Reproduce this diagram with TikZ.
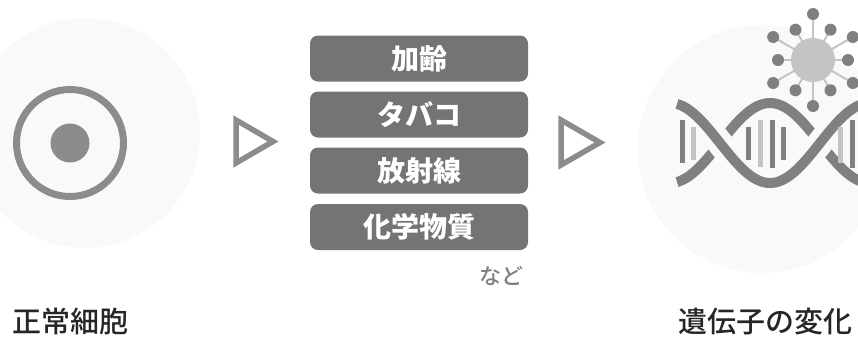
\documentclass[tikz,border=0pt]{standalone}
\usepackage{fontspec}
\newfontfamily\jpfont{Noto Sans CJK JP}
\newfontfamily\jpmedium{Noto Sans CJK JP Medium}
\definecolor{ringgray}{HTML}{8C8C8C}
\definecolor{boxgray}{HTML}{747474}
\definecolor{helixgray}{HTML}{808080}
\definecolor{palegray}{HTML}{C4C4C4}
\definecolor{halo}{HTML}{F9F9F9}
\definecolor{labelink}{HTML}{262626}
\begin{document}
\begin{tikzpicture}[x=1pt,y=-1pt,
  factor/.style={rounded corners=8pt, fill=boxgray, minimum width=218pt,
    minimum height=46pt, inner sep=0pt, text=white,
    font=\jpfont\bfseries\fontsize{28}{30}\selectfont},
  stagelabel/.style={inner sep=0pt, text=labelink,
    font=\jpmedium\fontsize{29}{32}\selectfont},
  flowmark/.style={draw=ringgray, line width=5.5pt, line join=miter},
  strand/.style={draw=helixgray, line width=10pt, line cap=butt},
  gap/.style={draw=halo, line width=26pt, line cap=butt},
  bar/.style={line width=5pt, line cap=butt},
  spike/.style={draw=palegray, line width=2pt},
  knob/.style={fill=helixgray}]
\useasboundingbox (0,0) rectangle (858,338);
\clip (0,0) rectangle (858,338);

% faint halos behind the two pictograms
\fill[halo] (85,133) circle (115);
\fill[halo] (762,149) circle (124);

% normal cell
\node[circle, draw=ringgray, line width=7pt, minimum size=107pt, inner sep=0pt] (cell) at (70,143) {};
\node[circle, fill=ringgray, minimum size=39pt, inner sep=0pt] (nucleus) at (cell.center) {};

% first flow mark
\coordinate (m1) at (236,120);
\draw[flowmark] (m1) -- ++(0,43) -- ++(37,-21.5) -- cycle;

% causes
\node[factor] (f1) at (419,58.5) {加齢};
\node[factor] (f2) at (419,114.5) {タバコ};
\node[factor] (f3) at (419,170.5) {放射線};
\node[factor] (f4) at (419,227) {化学物質};
\node[inner sep=0pt, text=helixgray, font=\jpmedium\fontsize{22}{24}\selectfont] (etc) at (501,276) {など};

% second flow mark
\coordinate (m2) at (561,120);
\draw[flowmark] (m2) -- ++(0,45) -- ++(39,-22.5) -- cycle;

% double helix: strand B first, strand A passes over it leaving a gap
\draw[strand] plot[domain=677:870, samples=120] (\x, {143+40*cos(1.8*(\x-670))});
\draw[gap] plot[domain=706:734, samples=30] (\x, {143-40*cos(1.8*(\x-670))});
\draw[gap] plot[domain=806:834, samples=30] (\x, {143-40*cos(1.8*(\x-670))});
\draw[strand] plot[domain=677:870, samples=120] (\x, {143-40*cos(1.8*(\x-670))});

% base pairs
\draw[bar, helixgray] (682,120) -- (682,163);
\draw[bar, palegray]  (693,127) -- (693,160);
\draw[bar, helixgray] (748,127) -- (748,160);
\draw[bar, palegray]  (760,120) -- (760,167);
\draw[bar, helixgray] (772,120) -- (772,168);
\draw[bar, helixgray] (783,127) -- (783,160);
\draw[bar, palegray]  (840,127) -- (840,163);
\draw[bar, helixgray] (852,120) -- (852,168);

% virus
\coordinate (v) at (813,60);
\foreach \a in {0,60,...,300} {
  \draw[spike] (v) -- ++(\a:-35);
}
\foreach \a in {30,90,...,330} {
  \draw[spike] (v) -- ++(\a:-46);
}
\node[circle, fill=palegray, minimum size=44pt, inner sep=0pt] (virion) at (v) {};
\foreach \a in {0,60,...,300} {
  \fill[knob] (v) ++(\a:-35) circle (6);
}
\foreach \a in {30,90,...,330} {
  \fill[knob] (v) ++(\a:-46) circle (6);
}

% stage labels
\node[stagelabel, anchor=west] (before) at (12,322) {正常細胞};
\node[stagelabel, anchor=west] (after) at (678,322) {遺伝子の変化};
\end{tikzpicture}
\end{document}
